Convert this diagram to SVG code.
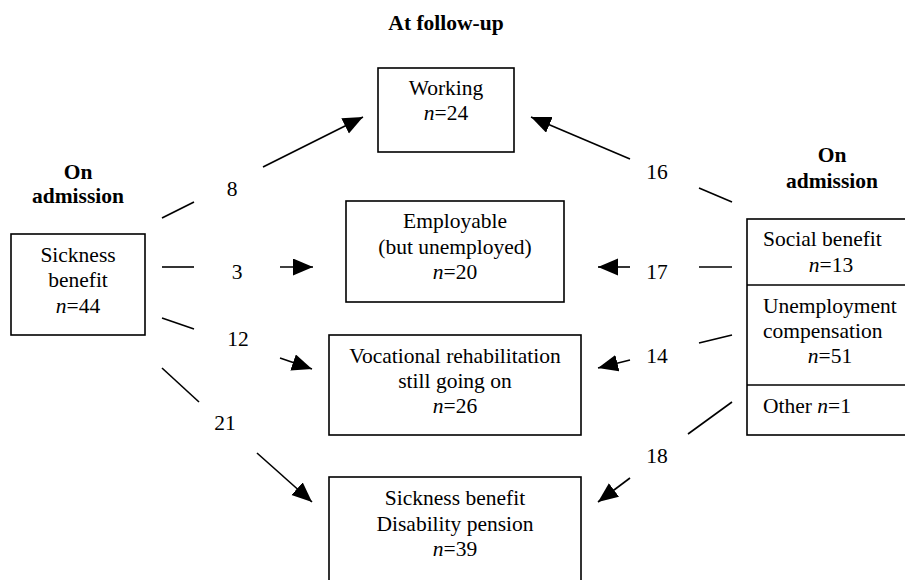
<svg xmlns="http://www.w3.org/2000/svg" width="905" height="580" viewBox="0 0 905 580" font-family="'Liberation Serif', 'DejaVu Serif', serif">
<defs>
<style>
text{font-family:'Liberation Serif','DejaVu Serif',serif;font-size:21.5px;fill:#000;text-anchor:middle}
.b{font-weight:bold}
.l{text-anchor:start}
.i{font-style:italic}
.box{fill:#fff;stroke:#000;stroke-width:1.6}
.c line{stroke:#000;stroke-width:1.6}
</style>
<marker id="ah" markerUnits="userSpaceOnUse" markerWidth="21" markerHeight="18" refX="20" refY="8.5" orient="auto">
<path d="M0,0 L20,8.5 L0,17 z" fill="#000"/>
</marker>
</defs>
<rect width="905" height="580" fill="#fff"/>
<text class="b" x="446" y="30">At follow-up</text>
<g id="label-left">
<text class="b" x="78" y="179">On</text>
<text class="b" x="78" y="203">admission</text>
</g>
<g id="label-right">
<text class="b" x="832" y="162">On</text>
<text class="b" x="832" y="188">admission</text>
</g>
<g id="working">
<rect class="box" x="378" y="68" width="136" height="84"/>
<text x="446" y="95">Working</text>
<text x="446" y="120"><tspan class="i">n</tspan>=24</text>
</g>
<g id="employable">
<rect class="box" x="346" y="201" width="218" height="101"/>
<text x="455" y="228">Employable</text>
<text x="455" y="254">(but unemployed)</text>
<text x="455" y="279"><tspan class="i">n</tspan>=20</text>
</g>
<g id="vocational">
<rect class="box" x="329" y="335" width="252" height="100"/>
<text x="455" y="363">Vocational rehabilitation</text>
<text x="455" y="388">still going on</text>
<text x="455" y="413"><tspan class="i">n</tspan>=26</text>
</g>
<g id="sickness-disability">
<rect class="box" x="329" y="477" width="252" height="115"/>
<text x="455" y="505">Sickness benefit</text>
<text x="455" y="531">Disability pension</text>
<text x="455" y="556"><tspan class="i">n</tspan>=39</text>
</g>
<g id="sickness-benefit">
<rect class="box" x="11" y="234" width="134" height="101"/>
<text x="78" y="262">Sickness</text>
<text x="78" y="287">benefit</text>
<text x="78" y="313"><tspan class="i">n</tspan>=44</text>
</g>
<g id="right-admission">
<rect class="box" x="747" y="219" width="165" height="216"/>
<line x1="747" y1="285" x2="912" y2="285" stroke="#000" stroke-width="1.6"/>
<line x1="747" y1="385" x2="912" y2="385" stroke="#000" stroke-width="1.6"/>
<g id="social-benefit">
<text class="l" x="763" y="246">Social benefit</text>
<text x="831" y="272"><tspan class="i">n</tspan>=13</text>
</g>
<g id="unemployment">
<text class="l" x="763" y="313">Unemployment</text>
<text class="l" x="763" y="338">compensation</text>
<text x="830" y="363"><tspan class="i">n</tspan>=51</text>
</g>
<g id="other">
<text class="l" x="763" y="413">Other <tspan class="i">n</tspan>=1</text>
</g>
</g>
<g id="connectors" class="c">
<line x1="162" y1="218" x2="194" y2="202"/>
<line x1="263" y1="167" x2="363" y2="117" marker-end="url(#ah)"/>
<line x1="162" y1="267" x2="194" y2="267"/>
<line x1="280" y1="267" x2="313" y2="267" marker-end="url(#ah)"/>
<line x1="162" y1="318" x2="194" y2="329"/>
<line x1="280" y1="358" x2="312" y2="369" marker-end="url(#ah)"/>
<line x1="162" y1="368" x2="199" y2="402"/>
<line x1="257" y1="453" x2="312" y2="502" marker-end="url(#ah)"/>
<line x1="732" y1="202" x2="699" y2="188"/>
<line x1="630" y1="159" x2="531" y2="117" marker-end="url(#ah)"/>
<line x1="732" y1="267" x2="699" y2="267"/>
<line x1="630" y1="267" x2="598" y2="267" marker-end="url(#ah)"/>
<line x1="732" y1="335" x2="699" y2="343"/>
<line x1="630" y1="360" x2="598" y2="368" marker-end="url(#ah)"/>
<line x1="732" y1="402" x2="688" y2="434"/>
<line x1="630" y1="478" x2="598" y2="502" marker-end="url(#ah)"/>
</g>
<g id="counts">
<text x="232" y="196">8</text>
<text x="237" y="279">3</text>
<text x="238" y="346">12</text>
<text x="225" y="430">21</text>
<text x="657" y="179">16</text>
<text x="657" y="279">17</text>
<text x="657" y="363">14</text>
<text x="657" y="463">18</text>
</g>
</svg>
